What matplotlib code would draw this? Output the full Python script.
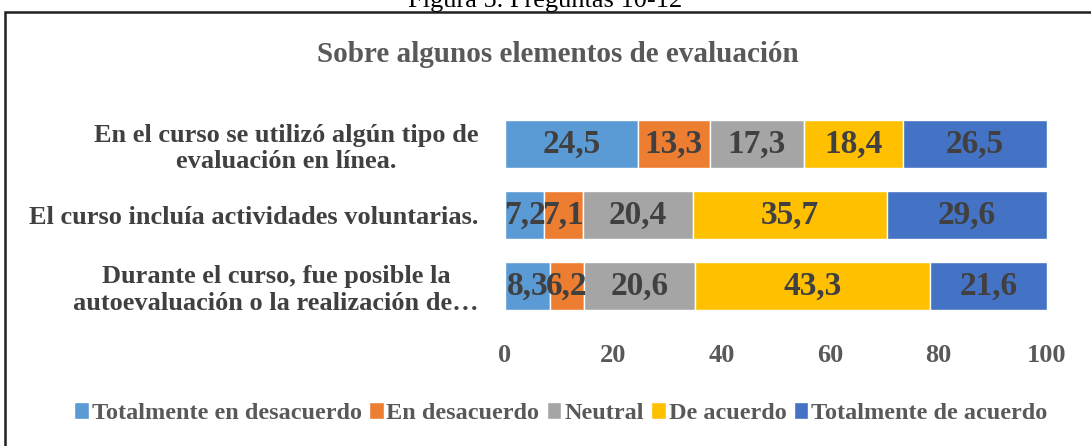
import matplotlib
matplotlib.use("Agg")
import matplotlib.pyplot as plt
from matplotlib.patches import Rectangle

categories = [
    "En el curso se utilizó algún tipo de\nevaluación en línea.",
    "El curso incluía actividades voluntarias.",
    "Durante el curso, fue posible la\nautoevaluación o la realización de…",
]
series_names = ["Totalmente en desacuerdo", "En desacuerdo", "Neutral",
                "De acuerdo", "Totalmente de acuerdo"]
totalmente_desacuerdo = [24.5, 7.2, 8.3]
en_desacuerdo = [13.3, 7.1, 6.2]
neutral = [17.3, 20.4, 20.6]
de_acuerdo = [18.4, 35.7, 43.3]
totalmente_acuerdo = [26.5, 29.6, 21.6]
colors = ["#5B9BD5", "#ED7D31", "#A5A5A5", "#FFC000", "#4472C4"]
xticks = [0, 20, 40, 60, 80, 100]

plt.rcParams["font.family"] = ["Liberation Serif", "DejaVu Serif"]
plt.rcParams["font.weight"] = "bold"

fig = plt.figure(figsize=(10.91, 4.46), dpi=100)
W, H = 1091, 446

# outer frame and caption (cut at the top, like the source page)
fig.patches.append(Rectangle((5 / W, -0.1), 1.2, 1 - 12 / H + 0.1,
                             transform=fig.transFigure, fill=False,
                             edgecolor="#202020", linewidth=1.8))
fig.text(0.5, 1 - 7 / H, "Figura 5. Preguntas 10-12", ha="center",
         va="baseline", fontsize=19, fontweight="normal", color="black")
fig.text(558 / W, 1 - 55 / H, "Sobre algunos elementos de evaluación",
         ha="center", va="center", fontsize=21, color="#595959")

ax = fig.add_axes([505 / W, 1 - 321.5 / H, (1047 - 505) / W, 213 / H])

all_series = [totalmente_desacuerdo, en_desacuerdo, neutral, de_acuerdo,
              totalmente_acuerdo]
y = list(range(len(categories)))
left = [0] * len(categories)
for name, vals, c in zip(series_names, all_series, colors):
    bars = ax.barh(y, vals, left=left, height=0.68, color=c,
                   edgecolor="white", linewidth=1, label=name)
    labels = [f"{v:.1f}".replace(".", ",") for v in vals]
    ax.bar_label(bars, labels=labels, label_type="center", fontsize=24,
                 color="#404040", fontweight="bold")
    left = [l + v for l, v in zip(left, vals)]

ax.set_xlim(0, 100)
ax.set_ylim(2.5, -0.5)
ax.set_xticks(xticks)
ax.set_yticks(y)
ax.set_yticklabels(categories, multialignment="center")
ax.tick_params(axis="x", length=0, pad=16, labelsize=19, labelcolor="#595959")
ax.tick_params(axis="y", length=0, pad=19, labelsize=19, labelcolor="#404040")
for s in ax.spines.values():
    s.set_visible(False)

leg = fig.legend(loc="center", bbox_to_anchor=(0.514, 1 - 413 / H),
                 ncol=5, frameon=False, fontsize=17.5, handlelength=0.6,
                 handleheight=0.7, handletextpad=0.12, columnspacing=0.3)
for t in leg.get_texts():
    t.set_color("#595959")

fig.savefig("out.png", dpi=100)
